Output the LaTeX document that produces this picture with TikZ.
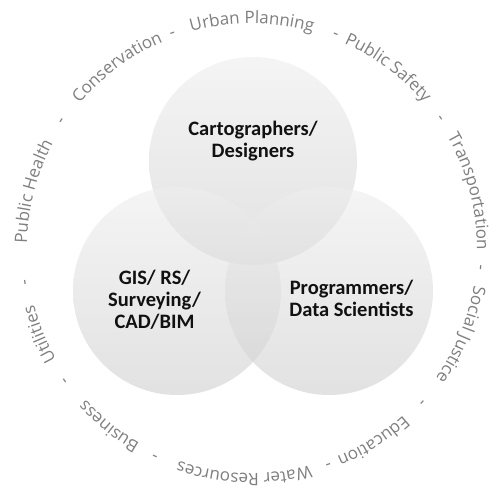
\documentclass[tikz,border=0pt]{standalone}
\usepackage{fontspec}
\setmainfont{Carlito}
\newfontfamily\ringfont{Open Sans}
\usetikzlibrary{decorations.text}
\definecolor{ringgray}{HTML}{7F7F7F}
\definecolor{circtop}{HTML}{EEEEEE}
\definecolor{circbot}{HTML}{CFCFCF}
\definecolor{lbltext}{HTML}{111111}
\newcommand\ringfmt{\ringfont\fontsize{17}{20}\selectfont}
\newcommand\ringR{225}
\newcommand\ringitem[2]{%
  \pgfmathsetmacro\ringA{#1+80}\pgfmathsetmacro\ringB{#1-80}%
  \path[decorate,decoration={text along path,text={|\ringfmt|#2},text color=ringgray,text align=center}]
    (\ringA:\ringR) arc[start angle=\ringA,end angle=\ringB,radius=\ringR];}
\tikzset{
  venn/.style={circle, minimum size=208pt, inner sep=0pt, draw=none,
    top color=circtop, bottom color=circbot, fill opacity=0.6},
  vennlabel/.style={align=center, text=lbltext, inner sep=0pt,
    font=\bfseries\fontsize{20.5}{22}\selectfont}
}
\begin{document}
\begin{tikzpicture}[x=1pt,y=1pt]
\useasboundingbox (0,0) rectangle (500,497);
\fill[white] (0,0) rectangle (500,497);
% circles
\node[venn] (ctop) at (253,336) {};
\node[venn] (cleft) at (177,206) {};
\node[venn] (cright) at (329,206) {};
% labels
\node[vennlabel] (ltop) at (253,356) {Cartographers/\\Designers};
\node[vennlabel] (lleft) at (154.5,197) {GIS/ RS/\\Surveying/\\CAD/BIM};
\node[vennlabel] (lright) at (351.5,199) {Programmers/\\Data Scientists};
% ring text
\begin{scope}[shift={(252,248.5)}]
\ringitem{90}{Urban Planning}
\ringitem{53}{Public Safety}
\ringitem{14.7}{Transportation}
\ringitem{-22.4}{Social Justice}
\ringitem{-57.8}{Education}
\ringitem{-92}{Water Resources}
\ringitem{-128.8}{Business}
\ringitem{-158}{Utilities}
\ringitem{165.4}{Public Health}
\ringitem{126.6}{Conservation}
\ringitem{110.3}{-}
\ringitem{68.6}{-}
\ringitem{34.7}{-}
\ringitem{-4.8}{-}
\ringitem{-42.2}{-}
\ringitem{-70.6}{-}
\ringitem{-115}{-}
\ringitem{-144.7}{-}
\ringitem{188.6}{-}
\ringitem{146.2}{-}
\end{scope}
\end{tikzpicture}
\end{document}
